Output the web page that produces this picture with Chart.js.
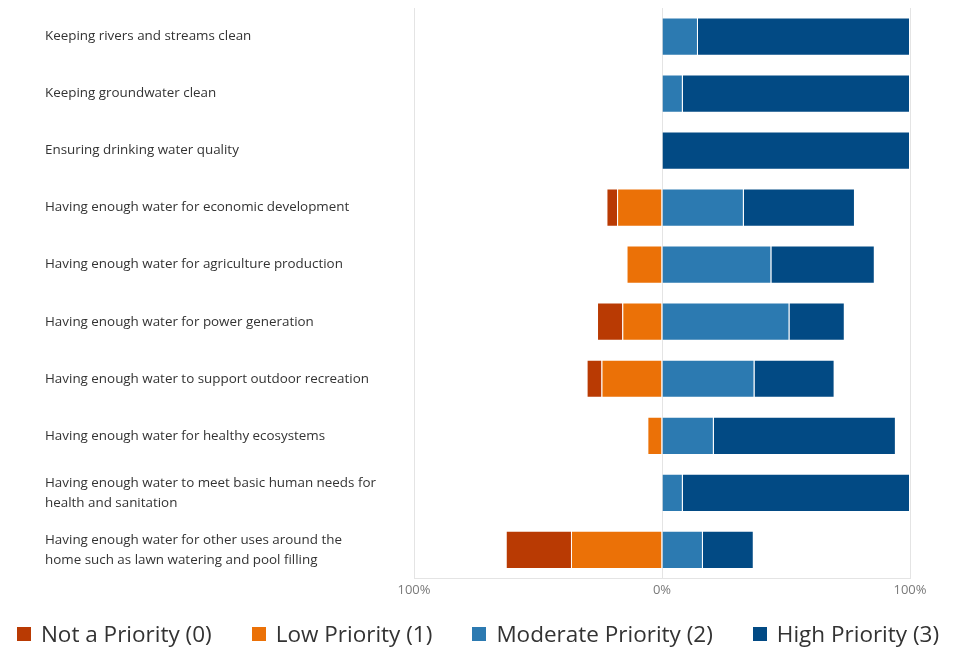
<!DOCTYPE html>
<html lang="en">
<head>
    <meta charset="utf-8">
    <title>Water Priorities</title>
    <script src="https://cdn.jsdelivr.net/npm/chart.js"></script>
    <style>
        html, body { margin: 0; padding: 0; background: #fff; }
        #wrap { width: 956px; height: 650px; position: relative; }
        #legend {
            position: absolute; left: 0; right: 0; top: 618px;
            display: flex; justify-content: center; gap: 40px;
            font-family: 'Open Sans', sans-serif; font-size: 22.5px; color: #333;
        }
        #legend .item { display: flex; align-items: center; white-space: nowrap; }
        #legend .box { width: 14px; height: 14px; margin-right: 10px; }
    </style>
</head>
<body>
<div id="wrap">
    <canvas id="priorityChart"></canvas>
    <div id="legend"></div>
</div>
<script>
    const categories = [
        ['Keeping rivers and streams clean'],
        ['Keeping groundwater clean'],
        ['Ensuring drinking water quality'],
        ['Having enough water for economic development'],
        ['Having enough water for agriculture production'],
        ['Having enough water for power generation'],
        ['Having enough water to support outdoor recreation'],
        ['Having enough water for healthy ecosystems'],
        ['Having enough water to meet basic human needs for', 'health and sanitation'],
        ['Having enough water for other uses around the', 'home such as lawn watering and pool filling']
    ];

    // percent of responses per priority level
    const notPriority = [0, 0, 0, 4.3, 0, 10.2, 6.0, 0, 0, 26.3];
    const lowPriority = [0, 0, 0, 18.1, 14.3, 16.0, 24.4, 5.9, 0, 36.7];
    const moderatePriority = [14.5, 8.4, 0, 33.0, 44.1, 51.4, 37.3, 20.9, 8.4, 16.5];
    const highPriority = [85.5, 91.6, 100, 44.8, 41.7, 22.3, 32.3, 73.4, 91.6, 20.5];

    const axisTicks = [-100, 0, 100];
    const legendOrder = ['Not a Priority (0)', 'Low Priority (1)', 'Moderate Priority (2)', 'High Priority (3)'];

    const barBorder = 'rgba(255, 255, 255, 0.55)';

    const ctx = document.getElementById('priorityChart').getContext('2d');
    const priorityChart = new Chart(ctx, {
        type: 'bar',
        data: {
            labels: categories,
            datasets: [
                {
                    // low first so it sits next to zero on the left side
                    label: 'Low Priority (1)',
                    data: lowPriority.map(v => -v),
                    backgroundColor: '#EB7107',
                    borderColor: barBorder,
                    borderWidth: 1
                },
                {
                    label: 'Not a Priority (0)',
                    data: notPriority.map(v => -v),
                    backgroundColor: '#B93A03',
                    borderColor: barBorder,
                    borderWidth: 1
                },
                {
                    label: 'Moderate Priority (2)',
                    data: moderatePriority,
                    backgroundColor: '#2C7AB1',
                    borderColor: barBorder,
                    borderWidth: 1
                },
                {
                    label: 'High Priority (3)',
                    data: highPriority,
                    backgroundColor: '#024A84',
                    borderColor: barBorder,
                    borderWidth: 1
                }
            ]
        },
        options: {
            indexAxis: 'y',
            responsive: true,
            maintainAspectRatio: false,
            animation: false,
            layout: {
                padding: { top: 8, left: 45, right: 46, bottom: 48 }
            },
            datasets: {
                bar: { categoryPercentage: 1, barPercentage: 0.67 }
            },
            scales: {
                x: {
                    stacked: true,
                    min: -100,
                    max: 100,
                    afterBuildTicks: axis => {
                        axis.ticks = axisTicks.map(v => ({ value: v }));
                    },
                    grid: { color: '#e4e4e4', drawTicks: false },
                    border: { color: '#e4e4e4' },
                    ticks: {
                        padding: 4,
                        color: '#7a7a7a',
                        font: { family: 'Open Sans', size: 13 },
                        callback: v => Math.abs(v) + '%'
                    }
                },
                y: {
                    stacked: true,
                    grid: { display: false },
                    border: { display: false },
                    afterFit: axis => {
                        axis.width = 369;
                        axis.paddingTop = 0;
                        axis.paddingBottom = 0;
                    },
                    ticks: {
                        crossAlign: 'far',
                        color: '#333',
                        font: { family: 'Open Sans', size: 13.4, lineHeight: 1.5 }
                    }
                }
            },
            plugins: {
                tooltip: { enabled: false },
                legend: { display: false }
            }
        }
    });

    // legend in the original order (not the stacking order)
    const legendEl = document.getElementById('legend');
    legendOrder.forEach(name => {
        const ds = priorityChart.data.datasets.find(d => d.label === name);
        const item = document.createElement('div');
        item.className = 'item';
        item.innerHTML = '<span class="box" style="background:' + ds.backgroundColor + '"></span>' + name;
        legendEl.appendChild(item);
    });
</script>
</body>
</html>
